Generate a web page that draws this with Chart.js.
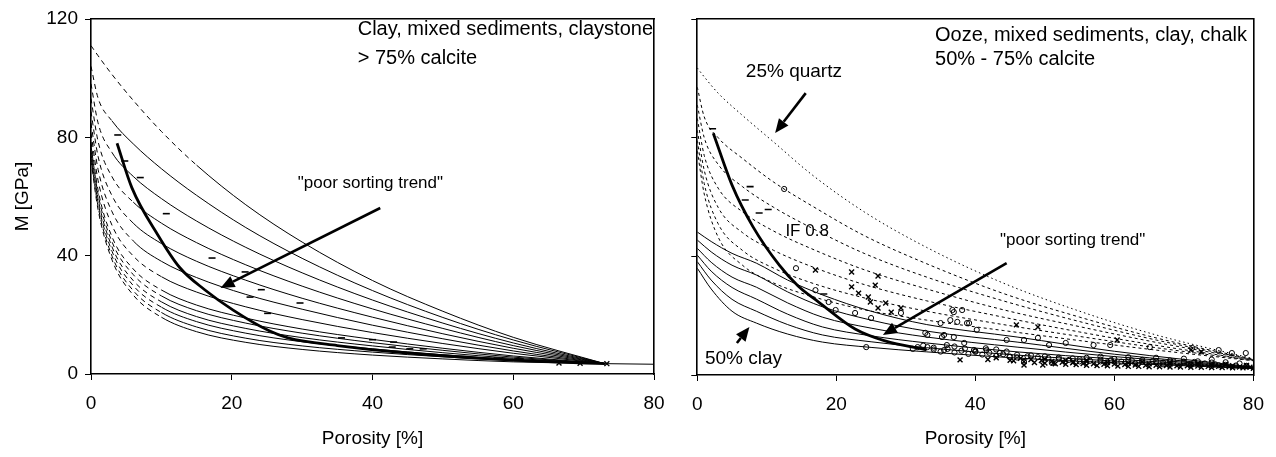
<!DOCTYPE html>
<html>
<head>
<meta charset="utf-8">
<script src="https://cdn.jsdelivr.net/npm/chart.js@4.4.1/dist/chart.umd.min.js"></script>
<style>
  html, body { margin: 0; padding: 0; background: #fff; }
  #wrap { position: relative; width: 1276px; height: 457px; overflow: hidden; }
  #left { position: absolute; left: 0; top: 0; }
  #right { position: absolute; left: 680px; top: 0; }
</style>
</head>
<body>
<div id="wrap">
  <canvas id="left" width="680" height="457"></canvas>
  <canvas id="right" width="596" height="457"></canvas>
</div>
<script>
// ---- ejes ----
var xTicks = [0, 20, 40, 60, 80];
var yTicks = [0, 40, 80, 120];

// ---- panel izquierdo: curvas IF (porosidad %, M GPa) ----
var leftPhi = [0, 1, 3, 6, 10, 15, 22, 30, 40, 50, 60, 73];
var leftIF10  = [111, 107.6, 101.2, 92.5, 82.0, 70.6, 57.2, 44.6, 31.6, 21.2, 12.4, 3.5];
var leftIF09  = [104.0, 93.3, 85.5, 77.8, 69.4, 60.4, 49.5, 39.1, 28.2, 19.1, 11.5, 3.5];
var leftIF08  = [98.1, 84.9, 74.8, 66.8, 59.3, 51.7, 42.8, 34.2, 25.0, 17.2, 10.5, 3.5];
var leftIF07  = [93.1, 78.7, 66.6, 58.1, 51.0, 44.4, 36.9, 29.7, 22.0, 15.4, 9.6, 3.5];
var leftIF06  = [88.7, 73.6, 60.2, 51.0, 44.1, 38.1, 31.7, 25.6, 19.2, 13.6, 8.7, 3.5];
var leftIF05  = [84.8, 69.2, 54.8, 45.0, 38.1, 32.6, 26.9, 21.9, 16.5, 11.9, 7.8, 3.5];
var leftIF04  = [81.4, 65.5, 50.2, 39.9, 32.9, 27.7, 22.7, 18.4, 14.0, 10.3, 7.0, 3.5];
var leftIF03  = [78.4, 62.2, 46.3, 35.5, 28.4, 23.3, 18.9, 15.2, 11.7, 8.7, 6.1, 3.5];
var leftIF025 = [77.1, 60.8, 44.6, 33.6, 26.4, 21.4, 17.2, 13.8, 10.6, 8.0, 5.7, 3.5];
var leftIF02  = [75.7, 59.3, 42.9, 31.6, 24.4, 19.4, 15.4, 12.3, 9.5, 7.2, 5.3, 3.5];
var leftIF015 = [74.5, 58.0, 41.4, 29.9, 22.6, 17.7, 13.8, 10.9, 8.5, 6.5, 4.9, 3.5];
var leftIF01  = [73.2, 56.7, 39.8, 28.2, 20.8, 15.9, 12.1, 9.5, 7.4, 5.8, 4.5, 3.5];
var leftIF005 = [72.1, 55.6, 38.5, 26.7, 19.2, 14.3, 10.7, 8.3, 6.4, 5.1, 4.1, 3.5];
// hasta qué porosidad cada curva va a trazos
var leftDashEnd = [15, 3, 3, 6, 6, 6, 10, 10, 10, 10, 10, 10, 10];
var leftTailPhi = [73, 80];
var leftTailM = [3.5, 3.3];

var leftTrendPhi = [3.7, 5.8, 9.5, 12.6, 16.2, 20.2, 25.4, 28, 35, 45, 55, 65, 73];
var leftTrendM = [78, 63, 47, 36, 28.4, 21.6, 14.5, 12.2, 9.6, 7.1, 5.4, 4.2, 3.5];

var leftDashPhi = [3.8, 4.8, 7, 10.7, 17.2, 21.9, 22.6, 24.2, 25.1, 29.7, 35.6, 40, 43, 42.8, 45.3, 47.2, 57.7, 61, 66.2, 69];
var leftDashM = [80.8, 72, 66.4, 54.2, 39.2, 34.5, 26, 28.5, 20.5, 24, 12.2, 11.6, 10.8, 9.1, 8.5, 8.5, 5.4, 5.1, 4.1, 3.7];
var leftCrossPhi = [66.5, 69.5, 73.3];
var leftCrossM = [3.7, 3.6, 3.5];

// ---- panel derecho ----
var rightPhi = [0, 1, 3, 6.5, 11, 16.5, 24, 33, 44, 55, 66, 80];
var rightQ25 = [103.5, 100.5, 95, 87.5, 78.5, 67.5, 55, 43, 31, 21.5, 13.5, 5.5];
var rightIF09 = [97, 87, 80, 73, 65, 57, 47, 37.5, 27.5, 19.5, 12.5, 5.3];
var rightIF08 = [91, 80, 71, 63.5, 56.5, 49.5, 41, 33, 25, 18, 11.8, 5.2];
var rightIF07 = [86.5, 74, 63, 55, 48.5, 42.5, 35.5, 29, 22, 16.3, 11, 5.1];
var rightIF06 = [82.5, 69, 56.5, 48, 42, 36.5, 30.5, 25, 19.5, 14.5, 10, 5];
var rightIF05 = [79, 64.5, 51, 42, 36, 31, 26, 21.5, 17, 13, 9.2, 4.9];
var rightIF04 = [75.5, 61, 46.5, 37, 31, 26.5, 22, 18.5, 15, 11.6, 8.4, 4.8];

var clayPhi = [0, 2, 5, 8.5, 13, 18, 25, 33, 46, 60, 80];
var clay1 = [48.2, 45, 41, 37.7, 32, 27, 21.5, 17, 12.8, 8, 2.7];
var clay2 = [45.5, 41.5, 37, 33.7, 28, 23, 18.5, 14.8, 11.1, 7, 2.6];
var clay3 = [42.7, 38, 33, 29.6, 24.3, 19.5, 15.8, 12.8, 9.4, 6.2, 2.5];
var clay4 = [40.4, 35, 29.5, 25.6, 20.5, 16.2, 13.2, 10.8, 7.8, 5.4, 2.4];
var clay5 = [38.2, 32, 25.5, 21.5, 17, 13.5, 11.2, 9.2, 6.7, 4.7, 2.3];
var clay6 = [36, 29, 21.5, 17.5, 13.8, 11.1, 9.3, 7.8, 5.7, 4.1, 2.2];

var rightTrendPhi = [2.3, 5, 8, 11.8, 14.5, 17.5, 22.7, 27, 33];
var rightTrendM = [81.5, 64, 50, 37, 30, 24.5, 15.5, 11.5, 8.5];

var rightDashPhi = [2.2, 7.6, 6.9, 8.9, 10.2, 18.2];
var rightDashM = [83, 63.5, 59, 54.6, 55.8, 27.3];

var rightCrossPhi = [17, 22.2, 26, 22.2, 25.6, 23.2, 24.6, 24.9, 27.1, 26, 27.9, 29.3, 37.8, 41.8, 45.9, 49, 47, 49.7, 51.2, 54.1, 60.4, 71, 72.5,
  46.5, 48, 49.5, 51, 52.5, 54, 55.5, 57, 58.5, 60, 61.5, 63, 64.5, 66, 67.5, 69, 70.5, 72, 73.5, 75, 76.5, 78, 79.5,
  56, 60, 64, 68, 72, 76, 79, 43, 45,
  45.5, 47, 48.5, 50, 51.5, 53, 54.5, 56, 57.5, 59, 60.5, 62, 63.5, 65, 66.5, 68, 69.5, 71, 72.5, 74, 75.5, 77, 78.5, 80,
  50, 53, 56, 59, 62, 65, 68, 71, 74, 77];
var rightCrossM = [35.4, 34.7, 33.4, 29.7, 30.3, 27.6, 26.3, 24.6, 24.3, 22.6, 21.2, 22.6, 5.1, 5.2, 16.9, 16.2, 3.4, 3.4, 4, 4.4, 11.8, 8.4, 7.8,
  5.6, 5.2, 4.9, 4.6, 4.3, 4.1, 3.9, 3.8, 3.6, 3.7, 3.5, 3.4, 3.3, 3.3, 3.2, 3.1, 3.1, 3.0, 2.9, 2.9, 2.8, 2.7, 2.6,
  5.0, 4.6, 4.4, 4.2, 3.9, 3.6, 3.2, 5.8, 5.0,
  4.8, 4.5, 4.2, 4.0, 3.8, 3.6, 3.5, 3.3, 3.2, 3.1, 3.0, 2.9, 2.9, 2.8, 2.8, 2.7, 2.7, 2.6, 2.6, 2.5, 2.5, 2.4, 2.4, 2.3,
  5.3, 4.9, 4.5, 4.2, 4.0, 3.8, 3.7, 3.5, 3.3, 3.1];

var rightCirclePhi = [12.5, 14.2, 17, 18.9, 19.9, 22.7, 25, 24.3, 29.3, 31.7, 33.1, 35.5, 36.9, 37.4, 38.8, 40.2, 35, 36.9, 38.4, 39.8, 41.6, 43.5, 44.9,
  33.1, 35.9, 36.7, 38.1, 36.4, 39.1, 32.8, 35.2, 44.5, 47, 49, 50.6, 53, 57, 59.4, 65.1, 71.2, 75, 76.9, 78.9,
  34, 35, 36, 37, 38, 39, 40, 41, 42, 43, 44, 45, 46, 47.5, 49, 50.5, 52, 53.5, 55, 56.5, 58, 58, 59.5, 61, 62, 62.5,
  64, 65.5, 66, 67, 68.5, 70, 70, 71.5, 73, 74, 74.5, 76, 77.5, 79,
  31, 32.5, 34, 35.5, 37, 38.5, 40, 41.5, 43, 44.5, 46, 48, 50, 52, 54, 56, 58, 60, 62, 64, 66, 68, 70, 72, 74, 76, 78,
  47, 51, 55, 59, 63, 67, 71, 75, 79];
var rightCircleM = [62.7, 36, 28.6, 24.6, 21.9, 20.9, 19.2, 9.4, 20.9, 9.4, 13.5, 13.5, 21.2, 17.9, 17.5, 15.2, 17.5, 12.8, 10.8, 8.4, 8.4, 7.4, 6.1,
  9.4, 10.1, 21.9, 21.9, 18.5, 17.5, 14.2, 12.8, 11.8, 11.8, 12.5, 10.1, 10.8, 10.1, 10.1, 9.4, 9.1, 8.4, 7.4, 7.4,
  8.6, 7.9, 8.8, 7.6, 8.2, 7.1, 7.8, 6.9, 7.5, 6.4, 7.0, 6.2, 6.8, 6.3, 6.0, 5.7, 5.4, 5.1, 5.3, 4.8, 4.6, 6.2, 5.0, 4.5, 6.0, 4.9,
  4.4, 4.7, 5.8, 4.2, 4.6, 4.1, 5.5, 4.4, 3.9, 5.2, 3.6, 3.4, 3.2, 3.0,
  8.8, 9.9, 9.2, 8.4, 9.6, 8.9, 8.1, 9.0, 8.6, 7.9, 5.9, 6.6, 6.3, 5.9, 5.6, 5.8, 5.2, 5.4, 5.0, 5.1, 4.6, 4.9, 4.5, 4.6, 4.2, 4.3, 3.9,
  4.4, 4.1, 4.6, 4.3, 3.9, 3.6, 3.4, 3.3, 3.1];

var FONT = '"Liberation Sans", Arial, Helvetica, sans-serif';

function pts(xs, ys) {
    return xs.map(function (x, i) { return { x: x, y: ys[i] }; });
}

// Curva fina negra con tramo a trazos hasta dashEnd
function curva(xs, ys, dash, dashEnd) {
    return {
        type: 'line',
        data: pts(xs, ys),
        borderColor: '#000',
        borderWidth: 1,
        pointRadius: 0,
        fill: false,
        cubicInterpolationMode: 'monotone',
        borderDash: dashEnd === undefined ? dash : [],
        segment: dashEnd === undefined ? {} : {
            borderDash: function (ctx) { return ctx.p1.parsed.x <= dashEnd ? dash : []; }
        }
    };
}

function tendencia(xs, ys) {
    return {
        type: 'line', data: pts(xs, ys), borderColor: '#000', borderWidth: 2.8,
        pointRadius: 0, fill: false, cubicInterpolationMode: 'monotone'
    };
}

function marcas(xs, ys, estilo, radio, ancho) {
    return {
        type: 'scatter', data: pts(xs, ys), pointStyle: estilo, pointRadius: radio,
        borderColor: '#000', backgroundColor: 'rgba(0,0,0,0)', borderWidth: ancho
    };
}

// Textos y flechas en coordenadas de datos
var notas = {
    id: 'notas',
    afterDatasetsDraw: function (chart, args, o) {
        var ctx = chart.ctx, sx = chart.scales.x, sy = chart.scales.y;
        ctx.save();
        ctx.fillStyle = '#000';
        ctx.strokeStyle = '#000';
        (o.flechas || []).forEach(function (a) {
            var x1 = sx.getPixelForValue(a[0]), y1 = sy.getPixelForValue(a[1]);
            var x2 = sx.getPixelForValue(a[2]), y2 = sy.getPixelForValue(a[3]);
            var ang = Math.atan2(y2 - y1, x2 - x1);
            var hl = 14, hw = 6;
            var bx = x2 - hl * Math.cos(ang), by = y2 - hl * Math.sin(ang);
            ctx.lineWidth = 2.6;
            ctx.beginPath(); ctx.moveTo(x1, y1); ctx.lineTo(bx, by); ctx.stroke();
            ctx.beginPath(); ctx.moveTo(x2, y2);
            ctx.lineTo(bx + hw * Math.sin(ang), by - hw * Math.cos(ang));
            ctx.lineTo(bx - hw * Math.sin(ang), by + hw * Math.cos(ang));
            ctx.closePath(); ctx.fill();
        });
        (o.textos || []).forEach(function (t) {
            ctx.font = t.size + 'px ' + FONT;
            ctx.textAlign = t.align || 'center';
            ctx.textBaseline = 'middle';
            ctx.fillText(t.text, sx.getPixelForValue(t.x), sy.getPixelForValue(t.y));
        });
        ctx.restore();
    }
};

function ejes(yWidth, xHeight, conEtiquetasY) {
    var grid = { display: true, drawOnChartArea: false, drawTicks: true, tickLength: 6, color: '#000', lineWidth: 1 };
    var borde = { display: true, color: '#000', width: 1.6 };
    return {
        x: {
            type: 'linear', position: 'bottom', min: 0, max: 80,
            afterBuildTicks: function (s) { s.ticks = xTicks.map(function (v) { return { value: v }; }); },
            afterFit: function (s) { s.height = xHeight; },
            ticks: { color: '#000', font: { family: FONT, size: 19 }, padding: 12, maxRotation: 0 },
            grid: grid, border: borde,
            title: { display: true, text: 'Porosity [%]', color: '#000', font: { family: FONT, size: 19 }, padding: { top: 0, bottom: 7 } }
        },
        y: {
            type: 'linear', position: 'left', min: 0, max: 120,
            afterBuildTicks: function (s) { s.ticks = yTicks.map(function (v) { return { value: v }; }); },
            afterFit: function (s) { s.width = yWidth; },
            ticks: { display: conEtiquetasY, color: '#000', font: { family: FONT, size: 19 }, padding: 7 },
            grid: grid, border: borde,
            title: { display: conEtiquetasY, text: 'M [GPa]', color: '#000', font: { family: FONT, size: 19 }, padding: { top: 11, bottom: 0 } }
        },
        x2: {
            type: 'linear', position: 'top', min: 0, max: 80,
            afterFit: function (s) { s.height = 0; },
            ticks: { display: false }, grid: { display: false, drawTicks: false }, border: borde
        },
        y2: {
            type: 'linear', position: 'right', min: 0, max: 120,
            afterFit: function (s) { s.width = 0; },
            ticks: { display: false }, grid: { display: false, drawTicks: false }, border: borde
        }
    };
}

// ---- gráfico izquierdo ----
var leftCurves = [leftIF10, leftIF09, leftIF08, leftIF07, leftIF06, leftIF05, leftIF04, leftIF03, leftIF025, leftIF02, leftIF015, leftIF01, leftIF005];
var leftSets = [
    marcas(leftDashPhi, leftDashM, 'line', 3.5, 1.6),
    marcas(leftCrossPhi, leftCrossM, 'crossRot', 3.5, 1.4),
    tendencia(leftTrendPhi, leftTrendM),
    curva(leftTailPhi, leftTailM, [])
];
leftCurves.forEach(function (c, i) { leftSets.push(curva(leftPhi, c, [5, 4], leftDashEnd[i])); });

new Chart(document.getElementById('left'), {
    type: 'scatter',
    data: { datasets: leftSets },
    options: {
        responsive: false, animation: false, devicePixelRatio: 1,
        layout: { padding: { top: 19, right: 26, left: 0, bottom: 0 } },
        scales: ejes(91, 83, true),
        plugins: {
            legend: { display: false }, tooltip: { enabled: false },
            notas: {
                flechas: [[41.1, 56.1, 18.4, 29.1]],
                textos: [
                    { text: 'Clay, mixed sediments, claystone', x: 37.9, y: 116.3, align: 'left', size: 20 },
                    { text: '> 75% calcite', x: 37.9, y: 106.8, align: 'left', size: 20 },
                    { text: '"poor sorting trend"', x: 39.7, y: 64.6, size: 17 }
                ]
            }
        }
    },
    plugins: [notas]
});

// ---- gráfico derecho ----
var rightSets = [
    marcas(rightDashPhi, rightDashM, 'line', 3.5, 1.6),
    marcas(rightCrossPhi, rightCrossM, 'crossRot', 3.5, 1.4),
    marcas(rightCirclePhi, rightCircleM, 'circle', 2.6, 1),
    tendencia(rightTrendPhi, rightTrendM),
    curva(rightPhi, rightQ25, [1.5, 3])
];
[rightIF09, rightIF08, rightIF07, rightIF06, rightIF05, rightIF04].forEach(function (c) {
    rightSets.push(curva(rightPhi, c, [3, 3]));
});
[clay1, clay2, clay3, clay4, clay5, clay6].forEach(function (c) {
    rightSets.push(curva(clayPhi, c, []));
});

new Chart(document.getElementById('right'), {
    type: 'scatter',
    data: { datasets: rightSets },
    options: {
        responsive: false, animation: false, devicePixelRatio: 1,
        layout: { padding: { top: 19, right: 21, left: 0, bottom: 0 } },
        scales: ejes(12, 82, false),
        plugins: {
            legend: { display: false }, tooltip: { enabled: false },
            notas: {
                flechas: [[15.6, 95, 11.2, 81.6], [44.5, 37.7, 26.7, 13.5], [5.7, 10.8, 7.5, 16.2]],
                textos: [
                    { text: 'Ooze, mixed sediments, clay, chalk', x: 34.2, y: 114.3, align: 'left', size: 20 },
                    { text: '50% - 75% calcite', x: 34.2, y: 106.2, align: 'left', size: 20 },
                    { text: '25% quartz', x: 13.9, y: 102.1, size: 19 },
                    { text: 'IF 0.8', x: 15.8, y: 48.5, size: 17 },
                    { text: '"poor sorting trend"', x: 54, y: 45.5, size: 17 },
                    { text: '50% clay', x: 1.1, y: 5.4, align: 'left', size: 19 }
                ]
            }
        }
    },
    plugins: [notas]
});
</script>
</body>
</html>
